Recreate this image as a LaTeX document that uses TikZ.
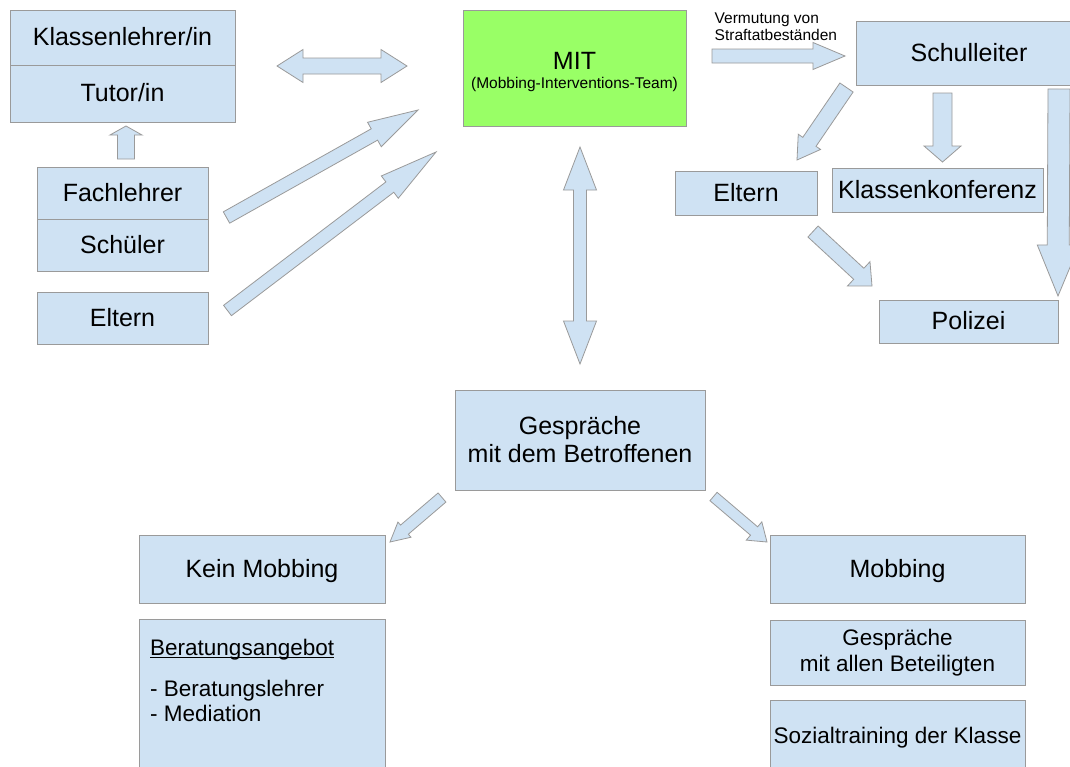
\documentclass[tikz,border=0pt]{standalone}
\usepackage{fontspec}
\setmainfont{Liberation Sans}
\usetikzlibrary{calc}
\definecolor{boxblue}{HTML}{CFE2F3}
\definecolor{boxline}{HTML}{9A9A9A}
\definecolor{mitgreen}{HTML}{99FF66}
\newcommand{\fsbig}{\fontsize{25}{28}\selectfont}
\newcommand{\fssmall}{\fontsize{15.5}{17}\selectfont}
\newcommand{\fsmid}{\fontsize{22.5}{26}\selectfont}
\newcommand{\myul}[1]{\setbox0\hbox{#1}\rlap{\rule[-2.2pt]{\wd0}{1pt}}#1}
\tikzset{
  box/.style={draw=boxline, fill=boxblue, line width=1pt, inner sep=0pt, align=center, font=\fsbig},
  oneline/.style={text height=17.5pt, text depth=1.5pt},
  onemid/.style={text height=16pt, text depth=1pt},
  blockarrow/.style={draw=boxline, fill=boxblue, line width=0.8pt, line join=miter},
  plaintext/.style={inner sep=0pt, align=left},
}
% single block arrow: from, to, half shaft, half head, head length
\newcommand{\sarrow}[5]{%
  \coordinate (hb) at ($(#2)!#5!(#1)$);
  \draw[blockarrow] ($(#1)!#3!90:(#2)$) -- ($(hb)!#3!90:(#2)$) -- ($(hb)!#4!90:(#2)$) -- (#2)
    -- ($(hb)!#4!-90:(#2)$) -- ($(hb)!#3!-90:(#2)$) -- ($(#1)!#3!-90:(#2)$) -- cycle;
}
% double block arrow
\newcommand{\darrow}[5]{%
  \coordinate (ha) at ($(#1)!#5!(#2)$);
  \coordinate (hb) at ($(#2)!#5!(#1)$);
  \draw[blockarrow] (#1) -- ($(ha)!#4!90:(#2)$) -- ($(ha)!#3!90:(#2)$) -- ($(hb)!#3!90:(#2)$)
    -- ($(hb)!#4!90:(#2)$) -- (#2) -- ($(hb)!#4!-90:(#2)$) -- ($(hb)!#3!-90:(#2)$)
    -- ($(ha)!#3!-90:(#2)$) -- ($(ha)!#4!-90:(#2)$) -- cycle;
}
\begin{document}
\begin{tikzpicture}[x=1pt,y=-1pt]
\useasboundingbox[fill=white] (0,0) rectangle (1070,766);

% left column
\node[box, oneline, minimum width=225pt, minimum height=55pt] (kl) at (122.5,37.5) {Klassenlehrer/in};
\node[box, oneline, minimum width=225pt, minimum height=57pt] (tu) at (122.5,93.5) {Tutor/in};
\node[box, oneline, minimum width=171pt, minimum height=52pt] (fa) at (122.5,193) {Fachlehrer};
\node[box, oneline, minimum width=171pt, minimum height=52pt] (sc) at (122.5,245) {Schüler};
\node[box, oneline, minimum width=171pt, minimum height=52pt] (elL) at (122.5,318) {Eltern};

% MIT
\node[box, fill=mitgreen, minimum width=223pt, minimum height=116pt] (mit) at (574.5,68)
  {\rule{0pt}{26pt}\fsbig MIT\\[-9pt]\fssmall (Mobbing-Interventions-Team)};

% right part
\node[plaintext, anchor=west, font=\fssmall] (ve) at (714.5,26.5) {Vermutung von\\Straftatbeständen};
\node[box, oneline, minimum width=226pt, minimum height=64pt] (sl) at (969,53) {Schulleiter};
\node[box, oneline, minimum width=142pt, minimum height=44pt] (elR) at (746,193) {Eltern};
\node[box, oneline, minimum width=211pt, minimum height=44pt] (kk) at (937.5,190) {Klassenkonferenz};
\node[box, oneline, minimum width=179pt, minimum height=43pt] (po) at (968.5,321.5) {Polizei};

% bottom
\node[box, minimum width=250pt, minimum height=100pt] (ge) at (580,440) {Gespräche\\mit dem Betroffenen};
\node[box, oneline, minimum width=246pt, minimum height=68pt] (km) at (262,569) {Kein Mobbing};
\node[box, minimum width=246pt, minimum height=160pt] (be) at (262,699) {};
\node[plaintext, anchor=west, font=\fsmid] (bt1) at (150,650) {\myul{Beratungsangebot}};
\node[plaintext, anchor=west, font=\fontsize{22.5}{25}\selectfont] (bt2) at (150,700.5) {- Beratungslehrer\\- Mediation};
\node[box, oneline, minimum width=255pt, minimum height=68pt] (mo) at (897.5,569) {Mobbing};
\node[box, minimum width=255pt, minimum height=65pt, font=\fsmid] (ga) at (897.5,652.5) {Gespräche\\mit allen Beteiligten};
\node[box, onemid, minimum width=255pt, minimum height=72pt, font=\fsmid] (so) at (897.5,736) {Sozialtraining der Klasse};

% arrow end points
\coordinate (a1s) at (126,159);   \coordinate (a1e) at (126,126);
\coordinate (a2s) at (277,66);    \coordinate (a2e) at (407,66);
\coordinate (a3s) at (226.5,217.5); \coordinate (a3e) at (418,110);
\coordinate (a4s) at (227.5,310.5); \coordinate (a4e) at (436,152);
\coordinate (a5s) at (580,147);   \coordinate (a5e) at (580,364);
\coordinate (a6s) at (712,56);    \coordinate (a6e) at (845,56);
\coordinate (a7s) at (846.5,87.5); \coordinate (a7e) at (797,160);
\coordinate (a8s) at (942.5,93);  \coordinate (a8e) at (942.5,162);
\coordinate (a9s) at (1059,89);   \coordinate (a9e) at (1058,296);
\coordinate (a10s) at (813,231.5); \coordinate (a10e) at (872,286);
\coordinate (a11s) at (442,497.5); \coordinate (a11e) at (390,542);
\coordinate (a12s) at (713.5,496.5); \coordinate (a12e) at (767,542);

\sarrow{a1s}{a1e}{8.5pt}{16pt}{9pt}
\darrow{a2s}{a2e}{8pt}{16.5pt}{26pt}
\sarrow{a3s}{a3e}{6.5pt}{14pt}{50pt}
\sarrow{a4s}{a4e}{6.5pt}{14pt}{58pt}
\darrow{a5s}{a5e}{6.5pt}{16.5pt}{43pt}
\sarrow{a6s}{a6e}{7pt}{13.5pt}{32pt}
\sarrow{a7s}{a7e}{8pt}{13.5pt}{22pt}
\sarrow{a8s}{a8e}{9.5pt}{18.5pt}{16pt}
\sarrow{a9s}{a9e}{11pt}{21pt}{51pt}
\sarrow{a10s}{a10e}{7.5pt}{16.5pt}{18pt}
\sarrow{a11s}{a11e}{6pt}{10pt}{19pt}
\sarrow{a12s}{a12e}{5.5pt}{12pt}{17pt}
\end{tikzpicture}
\end{document}
